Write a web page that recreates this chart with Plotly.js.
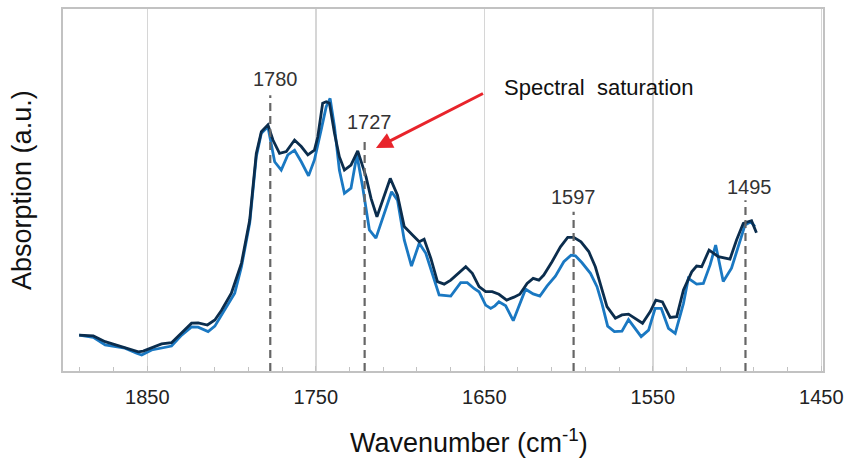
<!DOCTYPE html>
<html>
<head>
<meta charset="utf-8">
<script src="https://cdn.plot.ly/plotly-3.0.1.min.js"></script>
<style>html,body{margin:0;padding:0;background:#fff;}#chart{width:844px;height:461px;}</style>
</head>
<body>
<div id="chart"></div>
<script>
// Wavenumber (cm-1) and absorption (a.u.)
const wnDark = [1890.4,1882.0,1875.0,1869.1,1863.2,1855.3,1852.4,1846.4,1841.5,1835.6,1829.6,1823.7,1819.8,1814.3,1809.9,1806.0,1800.1,1794.1,1789.2,1785.3,1782.3,1778.4,1775.4,1771.5,1767.5,1762.6,1758.6,1754.7,1750.8,1748.8,1745.9,1743.8,1741.9,1738.9,1736.0,1733.0,1729.1,1725.1,1720.2,1717.2,1713.7,1710.4,1705.8,1701.5,1697.5,1692.6,1688.6,1685.7,1681.7,1677.8,1673.8,1669.9,1665.0,1661.0,1657.1,1653.1,1649.2,1645.3,1641.3,1636.7,1632.4,1628.9,1624.6,1621.0,1617.6,1614.7,1609.8,1604.8,1600.5,1596.9,1592.6,1588.0,1584.1,1580.2,1577.2,1572.2,1568.3,1564.4,1560.4,1556.1,1551.5,1548.2,1544.3,1539.7,1535.8,1531.8,1526.9,1524.0,1521.0,1516.6,1511.1,1504.2,1500.3,1496.3,1491.4,1488.5];
const absDark = [0.099,0.097,0.081,0.072,0.064,0.053,0.055,0.065,0.075,0.078,0.104,0.132,0.133,0.127,0.141,0.167,0.215,0.298,0.417,0.601,0.661,0.680,0.638,0.601,0.606,0.638,0.620,0.597,0.610,0.647,0.740,0.744,0.740,0.657,0.592,0.555,0.569,0.608,0.537,0.477,0.426,0.468,0.532,0.486,0.399,0.376,0.357,0.364,0.311,0.247,0.240,0.251,0.270,0.288,0.270,0.233,0.219,0.219,0.212,0.196,0.204,0.212,0.242,0.256,0.251,0.265,0.302,0.343,0.369,0.369,0.357,0.330,0.288,0.224,0.178,0.146,0.155,0.157,0.146,0.132,0.164,0.196,0.191,0.148,0.150,0.224,0.274,0.290,0.288,0.334,0.316,0.309,0.362,0.408,0.415,0.382];

const wnBlue = [1890.4,1882.0,1875.0,1869.1,1863.2,1856.3,1853.3,1847.4,1841.5,1835.6,1829.6,1823.7,1819.8,1813.9,1809.9,1806.0,1798.1,1794.1,1789.2,1785.3,1782.3,1778.4,1774.4,1770.5,1766.6,1762.6,1758.6,1754.3,1750.8,1746.8,1743.8,1741.5,1738.9,1736.0,1733.0,1729.1,1725.6,1722.2,1718.2,1714.3,1709.3,1705.0,1701.5,1697.5,1693.2,1688.6,1684.7,1680.8,1676.8,1669.9,1664.0,1660.1,1656.1,1653.1,1649.2,1646.2,1643.7,1641.3,1637.3,1632.8,1629.5,1625.5,1621.0,1617.0,1612.7,1607.8,1602.8,1598.5,1595.9,1592.0,1587.0,1583.1,1580.2,1576.8,1572.8,1568.3,1564.4,1561.1,1556.9,1552.5,1548.6,1545.0,1540.7,1536.7,1531.8,1528.9,1524.0,1520.0,1516.0,1512.7,1508.2,1503.3,1499.3,1495.3,1491.8,1489.4];
const absBlue = [0.099,0.093,0.072,0.067,0.063,0.049,0.044,0.058,0.063,0.069,0.099,0.122,0.121,0.109,0.124,0.155,0.215,0.288,0.409,0.592,0.657,0.675,0.578,0.555,0.597,0.610,0.578,0.539,0.583,0.666,0.730,0.753,0.675,0.555,0.491,0.505,0.597,0.509,0.390,0.367,0.436,0.495,0.472,0.362,0.290,0.353,0.325,0.270,0.210,0.207,0.244,0.244,0.228,0.219,0.182,0.173,0.180,0.191,0.180,0.139,0.178,0.226,0.213,0.207,0.235,0.262,0.302,0.320,0.318,0.299,0.270,0.233,0.187,0.124,0.109,0.110,0.142,0.120,0.095,0.113,0.173,0.173,0.118,0.104,0.187,0.256,0.240,0.242,0.293,0.348,0.247,0.284,0.343,0.403,0.412,0.399];

// Peak markers
const peakLabels = ['1780','1727','1597','1495'];
const peakPos = [1777, 1721, 1597, 1495];
const peakLineTop = [0.762, 0.646, 0.44, 0.472];
const peakLabelY = [0.807, 0.687, 0.482, 0.509];
const peakLabelShift = [5, 5, 0, 4];

const xTicks = [1850, 1750, 1650, 1550, 1450];

const traces = [
  {x: wnBlue, y: absBlue, type: 'scatter', mode: 'lines', line: {color: '#1a78c2', width: 2.8}, hoverinfo: 'skip', showlegend: false},
  {x: wnDark, y: absDark, type: 'scatter', mode: 'lines', line: {color: '#0b2d4d', width: 2.8}, hoverinfo: 'skip', showlegend: false}
];

const shapes = peakPos.map((p, i) => ({
  type: 'line', xref: 'x', yref: 'paper', x0: p, x1: p, y0: 0, y1: peakLineTop[i],
  line: {color: '#666666', width: 2.2, dash: '8px,5px'}, layer: 'above'
}));

const annotations = peakLabels.map((t, i) => ({
  text: t, xref: 'x', yref: 'paper', x: peakPos[i], y: peakLabelY[i], xshift: peakLabelShift[i],
  showarrow: false, xanchor: 'center', yanchor: 'middle',
  font: {family: 'Liberation Sans, Arial, sans-serif', size: 20, color: '#333333'}
}));

annotations.push({
  text: ' ', xref: 'paper', yref: 'paper', x: 0.4118, y: 0.616,
  showarrow: true, axref: 'pixel', ayref: 'pixel', ax: 110, ay: -56,
  arrowcolor: '#e8242b', arrowwidth: 3, arrowhead: 2, arrowsize: 1.1, standoff: 0
});
annotations.push({
  text: 'Spectral\u00a0\u00a0saturation', xref: 'paper', yref: 'paper', x: 0.5776, y: 0.7845,
  xanchor: 'left', yanchor: 'middle', showarrow: false,
  font: {family: 'Liberation Sans, Arial, sans-serif', size: 22, color: '#111111'}
});
annotations.push({
  text: 'Wavenumber (cm<sup>-1</sup>)', xref: 'paper', yref: 'paper', x: 0.534, y: -0.193,
  xanchor: 'center', yanchor: 'middle', showarrow: false,
  font: {family: 'Liberation Sans, Arial, sans-serif', size: 27, color: '#111111'}
});
annotations.push({
  text: 'Absorption (a.u.)', xref: 'paper', yref: 'paper', x: -0.054, y: 0.5,
  xanchor: 'center', yanchor: 'middle', showarrow: false, textangle: -90,
  font: {family: 'Liberation Sans, Arial, sans-serif', size: 27, color: '#111111'}
});

const layout = {
  width: 844, height: 461,
  margin: {l: 63, r: 21, t: 9, b: 90},
  paper_bgcolor: '#ffffff', plot_bgcolor: '#ffffff',
  xaxis: {
    range: [1900, 1449], tickvals: xTicks, ticktext: xTicks.map(String),
    showgrid: true, gridcolor: '#d6d6d6', gridwidth: 1.5,
    showline: true, linecolor: '#c2c2c2', linewidth: 2, mirror: true,
    ticks: 'inside', ticklen: 5, tickcolor: '#c2c2c2', tickwidth: 1,
    minor: {tick0: 1850, dtick: 20, ticks: 'inside', ticklen: 4, tickcolor: '#c2c2c2', showgrid: false},
    tickfont: {family: 'Liberation Sans Narrow, Liberation Sans, Arial, sans-serif', size: 20, color: '#222222'},
    ticklabelstandoff: 7, ticklabeloverflow: 'allow',
    zeroline: false
  },
  yaxis: {
    range: [0, 1], showticklabels: false, showgrid: false, zeroline: false,
    showline: true, linecolor: '#c2c2c2', linewidth: 2, mirror: true, ticks: ''
  },
  shapes: shapes,
  annotations: annotations
};

Plotly.newPlot('chart', traces, layout, {staticPlot: true, displayModeBar: false});
</script>
</body>
</html>
